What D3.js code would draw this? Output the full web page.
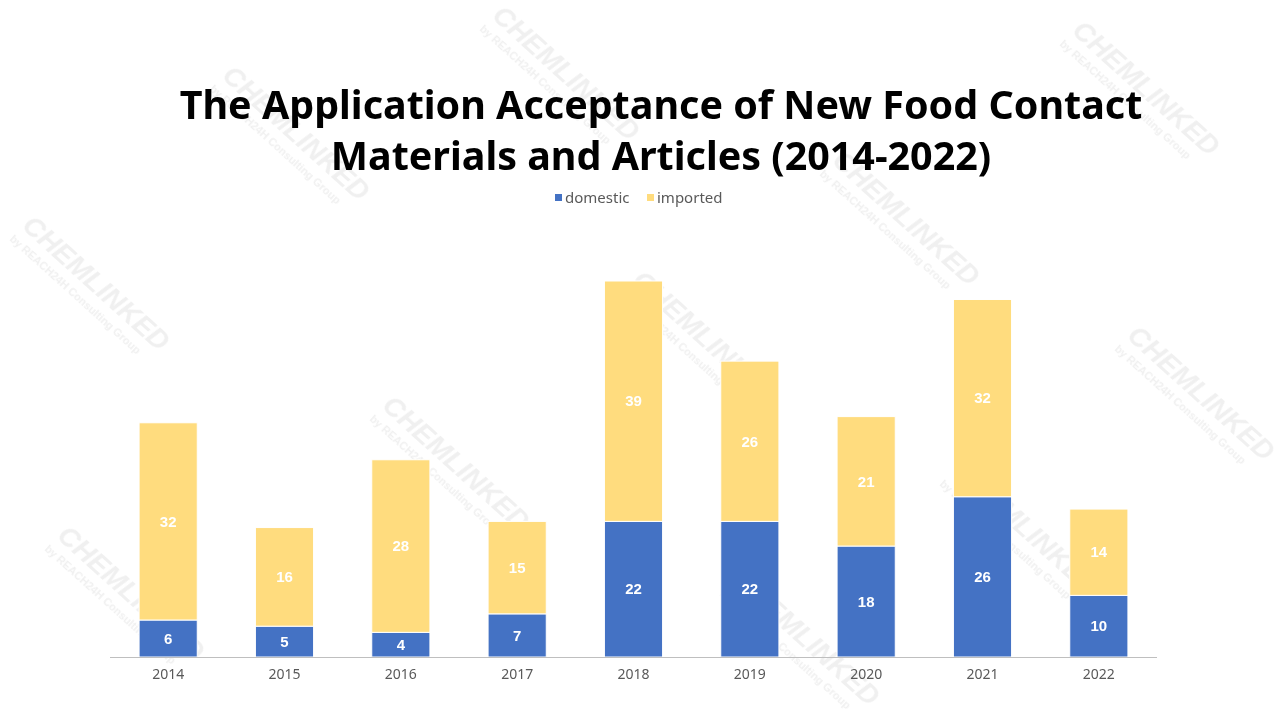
<!DOCTYPE html>
<html><head><meta charset="utf-8">
<script src="https://cdn.jsdelivr.net/npm/d3@7"></script>
<style>body{margin:0;background:#fff}svg{display:block}</style>
</head><body>
<svg id="c" width="1280" height="720"></svg>
<script>
const categories = ["2014","2015","2016","2017","2018","2019","2020","2021","2022"];
const domestic = [6,5,4,7,22,22,18,26,10];
const imported = [32,16,28,15,39,26,21,32,14];
const seriesNames = ["domestic","imported"];
const colors = ["#4472C4","#FFDC7E"];
const titleLines = ["The Application Acceptance of New Food Contact","Materials and Articles (2014-2022)"];

const svg = d3.select("#c");
const W=1280,H=720;
svg.append("rect").attr("width",W).attr("height",H).attr("fill","#fff");

// watermarks (behind)
const wm = [[90,290],[290,140],[560,80],[700,345],[450,470],[125,600],[900,225],[1140,95],[1020,535],[800,645],[1195,400]];
const wg = svg.append("g").attr("opacity",0.08).attr("pointer-events","none");
wm.forEach(([cx,cy])=>{
  const gg = wg.append("g").attr("transform",`translate(${cx},${cy}) rotate(42)`);
  gg.append("text").attr("text-anchor","middle").attr("font-family","Liberation Sans, Arial, sans-serif")
    .attr("font-weight","bold").attr("font-size",28).attr("fill","#404040").attr("font-style","italic").text("CHEMLINKED");
  gg.append("text").attr("x",-8).attr("y",17).attr("text-anchor","middle").attr("font-family","Liberation Sans, Arial, sans-serif")
    .attr("font-weight","bold").attr("font-size",11).attr("fill","#404040").text("by REACH24H Consulting Group");
});

const x = d3.scaleBand().domain(categories).range([110,1157]).paddingInner(0.5).paddingOuter(0.25);
const y = d3.scaleLinear().domain([0,61]).range([657,281]);

const rows = categories.map((c,i)=>({cat:c,domestic:domestic[i],imported:imported[i]}));
const stack = d3.stack().keys(seriesNames)(rows);

const g = svg.append("g");
stack.forEach((s,si)=>{
  g.selectAll(null).data(s).enter().append("rect")
   .attr("x",d=>x(d.data.cat)).attr("width",x.bandwidth())
   .attr("y",d=>y(d[1])).attr("height",d=>y(d[0])-y(d[1]))
   .attr("fill",colors[si]).attr("stroke","#fff").attr("stroke-width",1);
  g.selectAll(null).data(s).enter().append("text")
   .attr("x",d=>x(d.data.cat)+x.bandwidth()/2)
   .attr("y",d=>(y(d[0])+y(d[1]))/2)
   .attr("dy","0.35em").attr("text-anchor","middle")
   .attr("fill","#fff").attr("font-family","Liberation Sans, Arial, sans-serif")
   .attr("font-weight","bold").attr("font-size",15)
   .text(d=>d[1]-d[0]);
});

const ax = svg.append("g").attr("transform","translate(0,657)")
  .call(d3.axisBottom(x).tickSize(0).tickPadding(12).tickSizeOuter(0));
ax.select(".domain").attr("stroke","#BFBFBF").attr("d","M110,0.5H1157");
ax.selectAll("text").attr("font-family","Noto Sans, sans-serif").attr("font-size",14).attr("fill","#595959");

// title
const t = svg.append("text").attr("text-anchor","middle")
  .attr("font-family","Noto Sans, sans-serif").attr("font-weight","bold")
  .attr("font-size",38).attr("fill","#000");
t.selectAll("tspan").data(titleLines).enter().append("tspan")
  .attr("x",661).attr("y",(d,i)=>119+i*51).text(d=>d);
const tl = t.select("tspan").node().getComputedTextLength();
t.attr("font-size",Math.min(40,38*963/tl));

// legend
const leg = svg.append("g");
const lx=[555,647];
seriesNames.forEach((n,i)=>{
  leg.append("rect").attr("x",lx[i]).attr("y",194).attr("width",7).attr("height",7).attr("fill",colors[i]);
  leg.append("text").attr("x",lx[i]+10).attr("y",198).attr("dy","0.35em")
    .attr("font-family","Noto Sans, sans-serif").attr("font-size",15).attr("fill","#595959").text(n);
});
</script>
</body></html>
